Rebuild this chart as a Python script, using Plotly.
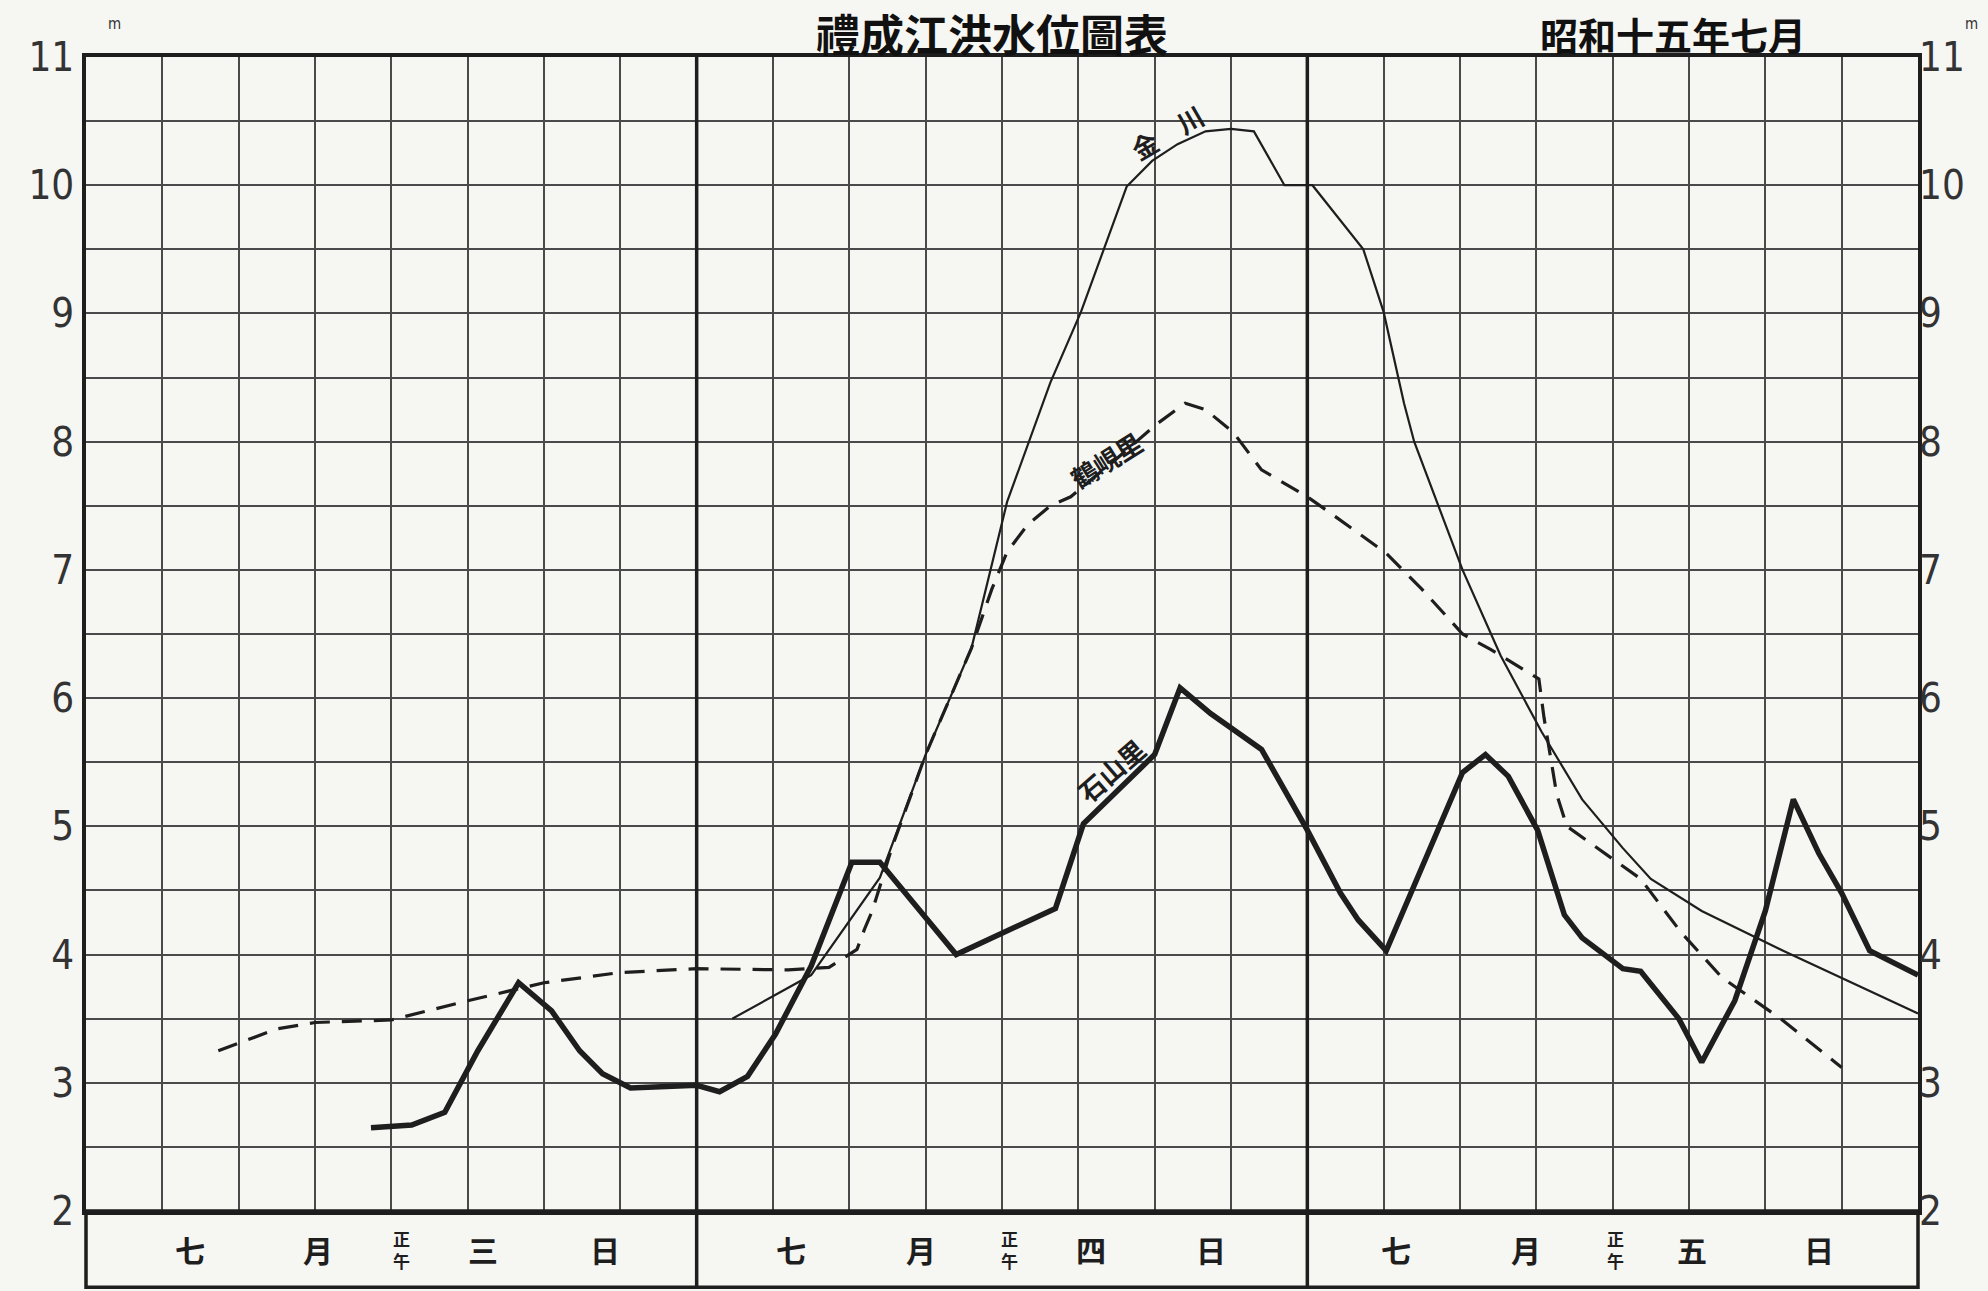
import plotly.graph_objects as go

# ---- data (hours counted from 0h on 3 July to 24h on 5 July; water level in metres) ----
kinsen_hour = [25.4, 28.5, 31.2, 33.0, 34.8, 36.2, 37.9, 39.1, 40.0, 40.9, 41.9, 42.9,
               44.0, 45.0, 45.9, 47.1, 48.2, 50.2, 51.0, 51.8, 52.2, 54.1, 55.6, 57.2,
               58.8, 60.4, 61.5, 63.5, 66.7, 72.0]
kinsen_level = [3.50, 3.84, 4.60, 5.56, 6.39, 7.53, 8.46, 9.01, 9.50, 9.99, 10.19, 10.32,
                10.42, 10.44, 10.42, 10.00, 10.00, 9.50, 9.01, 8.30, 8.00, 7.00, 6.33, 5.74,
                5.21, 4.83, 4.59, 4.34, 4.03, 3.54]

kakken_hour = [5.2, 7.5, 9.0, 12.0, 15.0, 18.0, 21.0, 24.0, 27.6, 29.2, 30.3, 30.6, 30.9,
               31.7, 33.0, 34.0, 34.8, 35.6, 36.2, 37.0, 37.9, 38.7, 40.4, 42.1, 43.2,
               44.0, 45.1, 46.2, 48.0, 49.0, 51.1, 52.5, 54.1, 55.2, 57.1, 57.3, 57.8,
               58.2, 59.7, 61.1, 62.7, 64.3, 66.6, 69.0]
kakken_level = [3.25, 3.42, 3.47, 3.49, 3.64, 3.78, 3.86, 3.89, 3.88, 3.90, 4.04, 4.20, 4.34,
                4.85, 5.56, 6.02, 6.39, 6.85, 7.14, 7.35, 7.50, 7.57, 7.85, 8.14, 8.30,
                8.25, 8.07, 7.78, 7.57, 7.43, 7.13, 6.85, 6.50, 6.38, 6.15, 5.85, 5.25,
                5.00, 4.79, 4.59, 4.17, 3.82, 3.50, 3.12]

sekisan_hour = [11.2, 12.8, 14.1, 15.4, 17.0, 18.3, 19.4, 20.3, 21.4, 24.0, 24.9, 26.0,
                27.1, 28.5, 30.1, 31.2, 34.2, 38.1, 39.2, 42.0, 43.0, 44.2, 46.2, 48.0,
                49.3, 50.0, 51.1, 54.1, 55.0, 55.9, 57.05, 58.1, 58.8, 60.4, 61.1, 62.6,
                63.5, 64.8, 66.0, 67.1, 68.1, 69.0, 70.1, 72.0]
sekisan_level = [2.65, 2.67, 2.77, 3.25, 3.78, 3.56, 3.25, 3.07, 2.96, 2.98, 2.93, 3.05,
                 3.38, 3.91, 4.72, 4.72, 4.00, 4.36, 5.02, 5.56, 6.08, 5.88, 5.60, 4.97,
                 4.48, 4.27, 4.03, 5.42, 5.56, 5.39, 4.97, 4.31, 4.13, 3.89, 3.87, 3.50,
                 3.16, 3.64, 4.34, 5.21, 4.79, 4.48, 4.03, 3.84]

y_ticks = [2, 3, 4, 5, 6, 7, 8, 9, 10, 11]
day_bounds = [24, 48]
date_chars = ["七", "月", "三", "日", "七", "月", "四", "日", "七", "月", "五", "日"]
date_char_hour = [4.1, 9.1, 15.6, 20.4, 27.7, 32.8, 39.5, 44.2, 51.5, 56.6, 63.1, 68.1]
noon_hour = [12.4, 36.3, 60.1]

title_text = "禮成江洪水位圖表"
subtitle_text = "昭和十五年七月"
station_names = ["金\u3000川", "鶴峴里", "石山里"]
station_label_hour = [42.5, 40.1, 40.3]
station_label_level = [10.42, 7.86, 5.44]
station_label_angle = [-30, -32, -41]

# ---- style ----
INK = "#1e1e1e"
GRID = "#4a4a4a"
PAPER = "#f6f6f3"
CJK = "Noto Sans CJK JP, Noto Sans CJK TC, sans-serif"
NUM = "Liberation Sans Narrow, DejaVu Sans Condensed, Liberation Sans, sans-serif"
BOX_Y = -0.066

fig = go.Figure()
fig.add_trace(go.Scatter(x=kakken_hour, y=kakken_level, mode="lines", name="鶴峴里",
                         line=dict(color=INK, width=3.2, dash="20px,12px"), hoverinfo="skip"))
fig.add_trace(go.Scatter(x=kinsen_hour, y=kinsen_level, mode="lines", name="金川",
                         line=dict(color=INK, width=2.2), hoverinfo="skip"))
fig.add_trace(go.Scatter(x=sekisan_hour, y=sekisan_level, mode="lines", name="石山里",
                         line=dict(color=INK, width=5.5), hoverinfo="skip"))
# carrier trace for the right-hand level axis
fig.add_trace(go.Scatter(x=kinsen_hour, y=kinsen_level, yaxis="y2", mode="lines",
                         line=dict(width=0), opacity=0, hoverinfo="skip", showlegend=False))

ann = []
for ch, h in zip(date_chars, date_char_hour):
    ann.append(dict(x=h, y=BOX_Y / 2, xref="x", yref="paper", text=ch, showarrow=False,
                    font=dict(family=CJK, size=30, color=INK, weight="bold"),
                    xanchor="center", yanchor="middle"))
for h in noon_hour:
    ann.append(dict(x=h, y=BOX_Y / 2, xref="x", yref="paper", text="正<br>午", showarrow=False,
                    font=dict(family=CJK, size=17, color=INK, weight="bold"),
                    xanchor="center", yanchor="middle"))
for name, h, lv, ang in zip(station_names, station_label_hour, station_label_level, station_label_angle):
    ann.append(dict(x=h, y=lv, xref="x", yref="y", text=name, showarrow=False, textangle=ang,
                    font=dict(family=CJK, size=26, color=INK, weight="bold")))
ann.append(dict(x=0.4945, y=1.0205, xref="paper", yref="paper", text=title_text, showarrow=False,
                font=dict(family=CJK, size=44, color="#111", weight="bold"),
                xanchor="center", yanchor="middle"))
ann.append(dict(x=0.866, y=1.0205, xref="paper", yref="paper", text=subtitle_text, showarrow=False,
                font=dict(family=CJK, size=38, color="#111", weight="bold"),
                xanchor="center", yanchor="middle"))
ann.append(dict(x=0.011, y=1.038, xref="paper", yref="paper", text="m", showarrow=False,
                font=dict(family=NUM, size=15, color="#333")))
ann.append(dict(x=1.034, y=1.038, xref="paper", yref="paper", text="m", showarrow=False,
                font=dict(family=NUM, size=15, color="#333")))

shapes = []
for d in day_bounds:
    shapes.append(dict(type="line", xref="x", yref="paper", x0=d, x1=d, y0=BOX_Y, y1=1,
                       line=dict(color=INK, width=3.5)))
shapes.append(dict(type="rect", xref="paper", yref="paper", x0=0, x1=1, y0=BOX_Y, y1=0,
                   line=dict(color=INK, width=3.5)))

axis_common = dict(showline=True, linecolor=INK, linewidth=3.5, mirror=True, zeroline=False)

fig.update_layout(
    width=1988, height=1291,
    margin=dict(l=86, r=70, t=57, b=80),
    paper_bgcolor=PAPER, plot_bgcolor=PAPER,
    showlegend=False,
    annotations=ann, shapes=shapes,
    xaxis=dict(range=[0, 72], tick0=0, dtick=3, showgrid=True, gridcolor=GRID, gridwidth=2,
               showticklabels=False, ticks="", **axis_common),
    yaxis=dict(range=[2, 11], tickvals=y_ticks, ticktext=[str(v) for v in y_ticks],
               showgrid=True, gridcolor=GRID, gridwidth=2, ticks="",
               tickfont=dict(family=NUM, size=40, color="#333"),
               minor=dict(dtick=0.5, showgrid=True, gridcolor=GRID, gridwidth=2),
               **axis_common),
    yaxis2=dict(range=[2, 11], overlaying="y", side="right", tickvals=y_ticks,
                ticktext=[str(v) for v in y_ticks], showgrid=False, zeroline=False, ticks="",
                tickfont=dict(family=NUM, size=40, color="#333")),
)

fig.write_html("out.html", config={"displayModeBar": False},
               post_script="document.body.style.margin='0';document.body.style.overflow='hidden';")
